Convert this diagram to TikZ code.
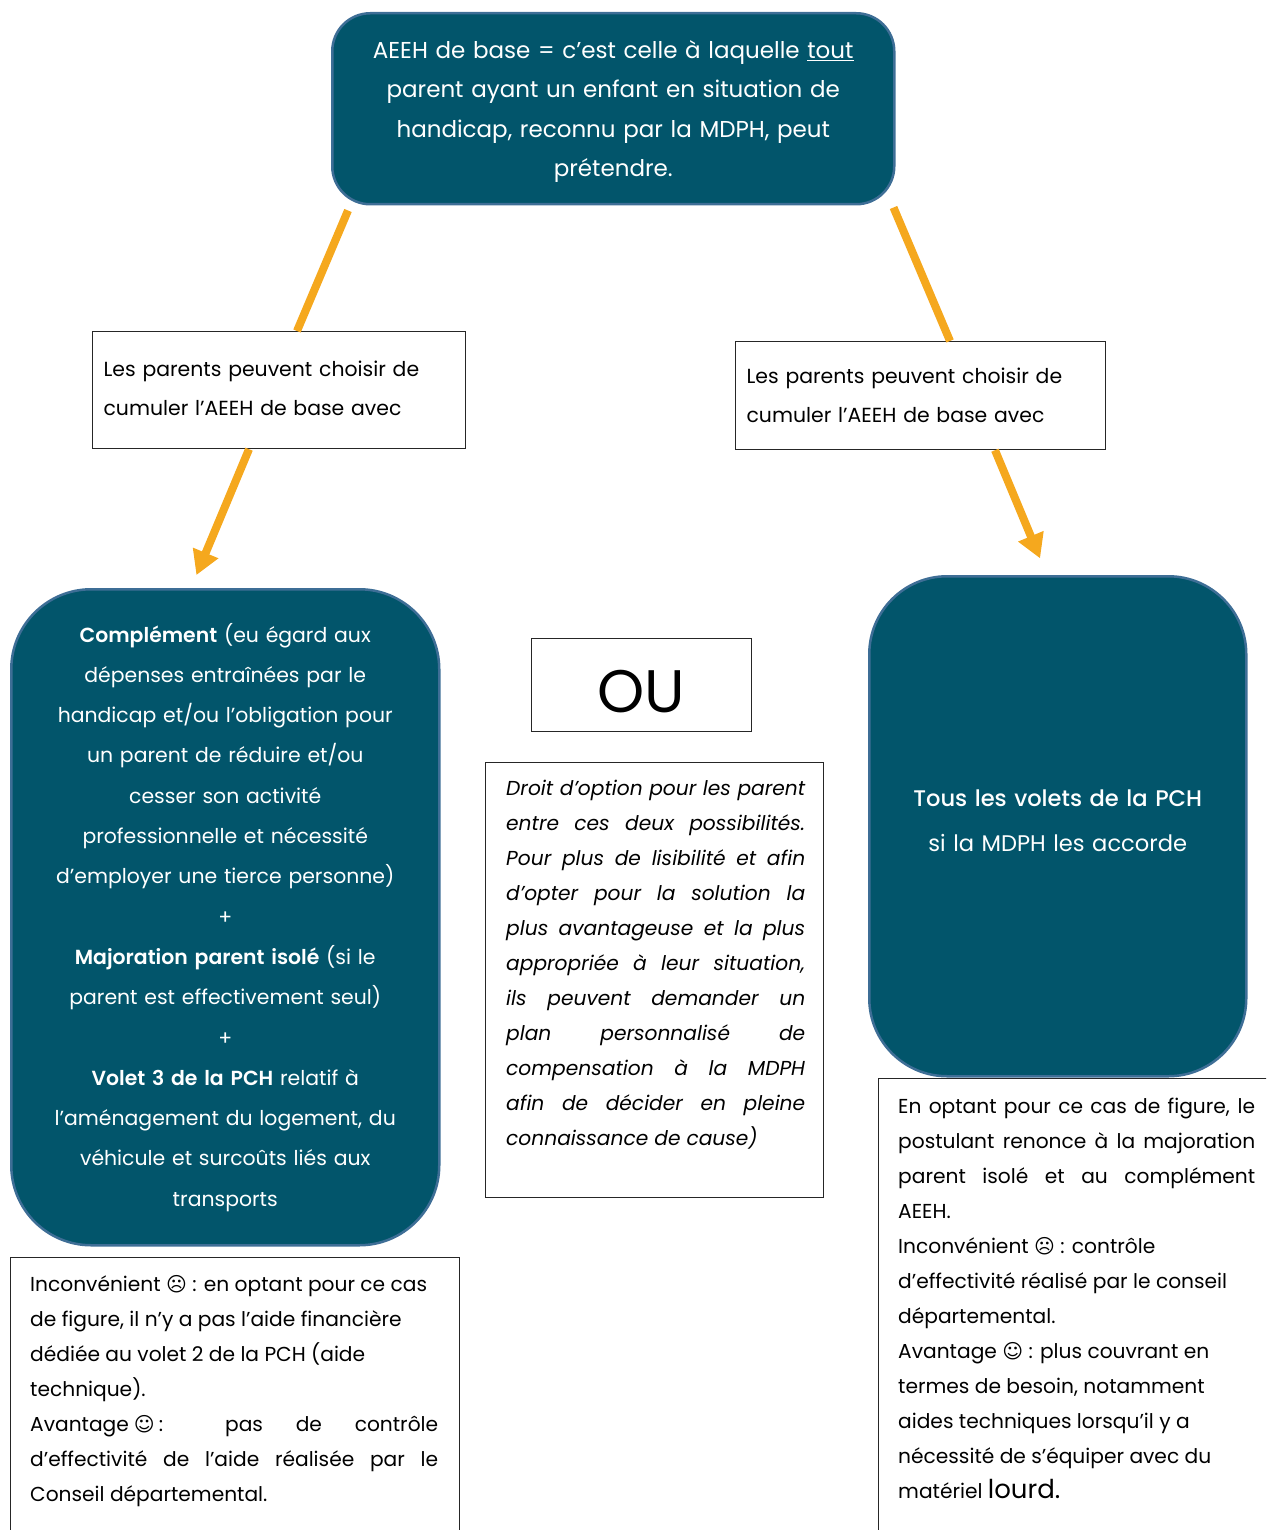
\documentclass[tikz,border=0pt]{standalone}
\usepackage{fontspec}
\setmainfont{Poppins}[BoldFont={Poppins SemiBold}]
\newfontfamily\symbfont{DejaVu Sans}
\newfontfamily\mediumfont{Poppins Medium}
\usetikzlibrary{arrows.meta,positioning,calc}
\setlength{\parindent}{0pt}

\definecolor{tealbox}{RGB}{2,85,107}
\definecolor{tealedge}{RGB}{62,110,150}
\definecolor{orangelink}{RGB}{245,168,30}

\newcommand{\sadface}{{\symbfont\fontsize{20}{20}\selectfont ☹}}
\newcommand{\happyface}{{\symbfont\fontsize{20}{20}\selectfont ☺}}
\newcommand{\lowerby}[2]{\raisebox{-#1}[\height][\depth]{#2}}

\tikzset{
  ovalbox/.style={draw=tealedge, line width=2.5pt, fill=tealbox, text=white, align=center, inner sep=0pt},
  framebox/.style={draw=black!85, line width=1.2pt, inner sep=0pt},
  notetext/.style={inner sep=0pt, align=justify, font=\fontsize{20.2}{35}\selectfont},
  link/.style={draw=orangelink, line width=8pt},
  linkarrow/.style={link, -{Triangle[width=26pt,length=24pt]}},
}

\begin{document}
\begin{tikzpicture}[x=1pt, y=-1pt]
	\useasboundingbox (0,0) rectangle (1266,1530);
	\clip (0,0) rectangle (1266,1530);

	% Top box
	\node[ovalbox, rounded corners=38pt, anchor=north west, minimum width=562pt, minimum height=191pt,
		text width=530pt, font=\fontsize{23}{39.5}\selectfont] (top) at (331,12)
		{\lowerby{3pt}{AEEH de base = c’est celle à laquelle \underline{tout}}\\
		\lowerby{3pt}{parent ayant un enfant en situation de}\\
		\lowerby{3pt}{handicap, reconnu par la MDPH, peut}\\
		\lowerby{3pt}{prétendre.}};

	% Choice boxes
	\node[framebox, anchor=north west, minimum width=373pt, minimum height=117pt, inner xsep=11pt,
		text width=351pt, align=left, font=\fontsize{20.4}{39}\selectfont] (choixL) at (92,331)
		{\lowerby{-2pt}{Les parents peuvent choisir de}\\ \lowerby{-2pt}{cumuler l’AEEH de base avec}};
	\node[framebox, anchor=north west, minimum width=370pt, minimum height=108pt, inner xsep=11pt,
		text width=348pt, align=left, font=\fontsize{20.4}{39}\selectfont] (choixR) at (735,341)
		{Les parents peuvent choisir de\\ cumuler l’AEEH de base avec};

	% Option A
	\node[ovalbox, rounded corners=80pt, anchor=north west, minimum width=428pt, minimum height=656pt,
		text width=370pt, font=\fontsize{20.4}{40.3}\selectfont] (optA) at (10,588)
		{\textbf{Complément} (eu égard aux\\
		dépenses entraînées par le\\
		handicap et/ou l’obligation pour\\
		un parent de réduire et/ou\\
		cesser son activité\\
		professionnelle et nécessité\\
		d’employer une tierce personne)\\
		+\\
		\textbf{Majoration parent isolé} (si le\\
		parent est effectivement seul)\\
		+\\
		\textbf{Volet 3 de la PCH} relatif à\\
		l’aménagement du logement, du\\
		véhicule et surcoûts liés aux\\
		transports};

	% Option B
	\node[ovalbox, rounded corners=78pt, anchor=north west, minimum width=377pt, minimum height=500pt,
		text width=340pt, font=\fontsize{22.6}{45}\selectfont] (optB) at (868,575)
		{\lowerby{-6pt}{\mediumfont Tous les volets de la PCH}\\ \lowerby{-6pt}{si la MDPH les accorde}};

	% OU
	\node[framebox, anchor=north west, minimum width=220pt, minimum height=93pt,
		font=\fontsize{60}{60}\selectfont] (ou) at (531,638) {\lowerby{6pt}{OU}};

	% Droit d'option
	\node[framebox, anchor=north west, minimum width=338pt, minimum height=435pt] (droit) at (485,762) {};
	\node[notetext, anchor=north west, text width=299pt, font=\itshape\fontsize{20.2}{35}\selectfont] (droittxt)
		at ([shift={(21,18)}]droit.north west)
		{Droit d’option pour les parent\linebreak
		entre ces deux possibilités.\linebreak
		Pour plus de lisibilité et afin\linebreak
		d’opter pour la solution la\linebreak
		plus avantageuse et la plus\linebreak
		appropriée à leur situation,\linebreak
		ils peuvent demander un\linebreak
		plan personnalisé de\linebreak
		compensation à la MDPH\linebreak
		afin de décider en pleine\linebreak
		connaissance de cause)};

	% Notes under the options
	\node[framebox, anchor=north west, minimum width=449pt, minimum height=320pt] (noteA) at (10,1257) {};
	\node[notetext, anchor=north west, text width=408pt] (noteAtxt) at ([shift={(20,18)}]noteA.north west)
		{Inconvénient \sadface{} : en optant pour ce cas\\
		de figure, il n’y a pas l’aide financière\\
		dédiée au volet 2 de la PCH (aide\\
		technique).\\
		Avantage\hspace{5pt}\happyface\hspace{4pt}: pas de contrôle\linebreak
		d’effectivité de l’aide réalisée par le\linebreak
		Conseil départemental.};

	\node[framebox, anchor=north west, minimum width=420pt, minimum height=500pt] (noteB) at (878,1078) {};
	\node[notetext, anchor=north west, text width=357pt] (noteBtxt) at ([shift={(20,20)}]noteB.north west)
		{En optant pour ce cas de figure, le\linebreak
		postulant renonce à la majoration\linebreak
		parent isolé et au complément\linebreak
		AEEH.\\
		Inconvénient \sadface{} : contrôle\\
		d’effectivité réalisé par le conseil\\
		départemental.\\
		Avantage \happyface{} : plus couvrant en\\
		termes de besoin, notamment\\
		aides techniques lorsqu’il y a\\
		nécessité de s’équiper avec du\\
		matériel {\fontsize{26}{35}\selectfont lourd.}};

	% Links
	\draw[link] ([shift={(17,5)}]top.south west) -- ([shift={(205,0)}]choixL.north west);
	\draw[link] ([shift={(-2,2)}]top.south east) -- ([shift={(215,0)}]choixR.north west);
	\draw[linkarrow, shorten >=14pt] ([shift={(157,0)}]choixL.south west) -- ([shift={(181,0)}]optA.north west);
	\draw[linkarrow, shorten >=18pt] ([shift={(260,0)}]choixR.south west) -- ([shift={(179,0)}]optB.north west);
\end{tikzpicture}
\end{document}
